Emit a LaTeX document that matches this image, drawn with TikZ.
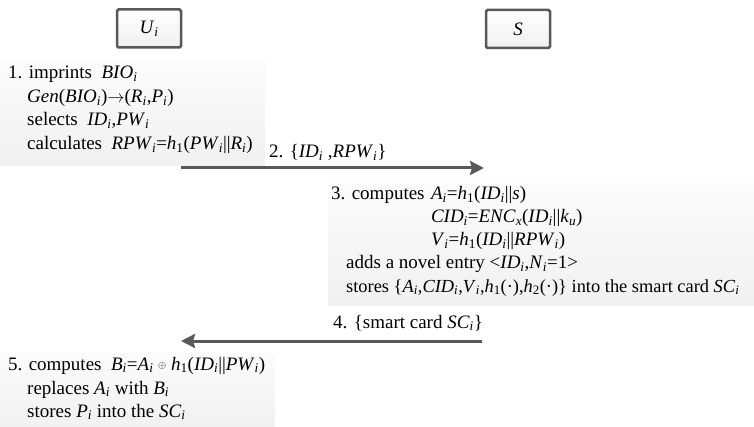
\documentclass[tikz,border=0pt]{standalone}
\usepackage{fontspec}
\setmainfont{Liberation Serif}
\usetikzlibrary{arrows.meta}
\definecolor{arrowgray}{HTML}{595959}
\newcommand\isub[1]{\textsubscript{\itshape #1}}
\newcommand\rsub[1]{\textsubscript{#1}}
\newcommand\V[1]{\textit{#1}}
\newcommand\cat{||}
\tikzset{
  lbl/.style={anchor=base west, inner sep=0pt, font=\fontsize{19}{22}\selectfont},
  actor/.style={draw=arrowgray, line width=2.5pt, rounded corners=1.5pt, top color=white, bottom color=gray!12, minimum width=64, minimum height=38, inner sep=0pt, font=\fontsize{19}{22}\selectfont},
  bgbox/.style={top color=gray!3, bottom color=gray!11, draw=none, anchor=north west, inner sep=0pt},
  msg/.style={line width=3pt, draw=arrowgray, -{Stealth[length=14pt,width=14pt,inset=2pt]}}
}
\begin{document}
\begin{tikzpicture}[x=1pt,y=-1pt]
\useasboundingbox (0,0) rectangle (754,427);
% actors
\node[actor] (U) at (149,28.5) {\V{U}\isub{i}};
\node[actor] (S) at (518,29) {\V{S}};
% backgrounds
\node[bgbox, minimum width=265, minimum height=104] (bg1) at (0,61) {};
\node[bgbox, minimum width=426, minimum height=122] (bg3) at (328,183) {};
\node[bgbox, minimum width=275, minimum height=74] (bg5) at (0,353) {};
% block 1
\node[lbl] (l1a) at (8,79) {1. imprints\hspace{0.5em}\V{BIO}\isub{i}};
\node[lbl] (l1b) at (27,102.5) {\V{Gen}(\V{BIO}\isub{i})$\rightarrow$(\V{R}\isub{i},\V{P}\isub{i})};
\node[lbl] (l1c) at (27,126) {selects\hspace{0.5em}\V{ID}\isub{i},\V{PW}\isub{i}};
\node[lbl] (l1d) at (27,149.5) {calculates\hspace{0.5em}\V{RPW}\isub{i}=\V{h}\rsub{1}(\V{PW}\isub{i}\cat\V{R}\isub{i})};
% message 2
\coordinate (a2s) at (181,168);
\coordinate (a2e) at (484,168);
\draw[msg] (a2s) -- (a2e);
\node[lbl] (m2) at (269,158) {2. \{\V{ID}\isub{i} ,\V{RPW}\isub{i}\}};
% block 3
\node[lbl] (l3a) at (331,200) {3. computes};
\node[lbl] (l3f) at ([xshift=6pt]l3a.base east) {\V{A}\isub{i}=\V{h}\rsub{1}(\V{ID}\isub{i}\cat\V{s})};
\coordinate (r3b) at (0,223);
\coordinate (r3c) at (0,246);
\node[lbl] (l3b) at (l3f.base west |- r3b) {\V{CID}\isub{i}=\V{ENC}\isub{x}(\V{ID}\isub{i}\cat\V{k}\isub{u})};
\node[lbl] (l3c) at (l3f.base west |- r3c) {\V{V}\isub{i}=\V{h}\rsub{1}(\V{ID}\isub{i}\cat\V{RPW}\isub{i})};
\node[lbl] (l3d) at (346,269) {adds a novel entry <\V{ID}\isub{i},\V{N}\isub{i}=1>};
\node[lbl, font=\fontsize{18.4}{22}\selectfont] (l3e) at (346,292) {stores \{\V{A}\isub{i},\V{CID}\isub{i},\V{V}\isub{i},\V{h}\rsub{1}(·),\V{h}\rsub{2}(·)\} into the smart card \V{SC}\isub{i}};
% message 4
\coordinate (a4s) at (482,341);
\coordinate (a4e) at (181,341);
\draw[msg] (a4s) -- (a4e);
\node[lbl] (m4) at (333,328) {4. \{smart card \V{SC}\isub{i}\}};
% block 5
\node[lbl] (l5a) at (8,370) {5. computes\hspace{0.5em}\V{B}\isub{i}=\V{A}\isub{i} \raisebox{1.8pt}{\scalebox{0.6}{$\oplus$}} \V{h}\rsub{1}(\V{ID}\isub{i}\cat\V{PW}\isub{i})};
\node[lbl] (l5b) at (27,394) {replaces \V{A}\isub{i} with \V{B}\isub{i}};
\node[lbl] (l5c) at (27,417) {stores \V{P}\isub{i} into the \V{SC}\isub{i}};
\end{tikzpicture}
\end{document}
